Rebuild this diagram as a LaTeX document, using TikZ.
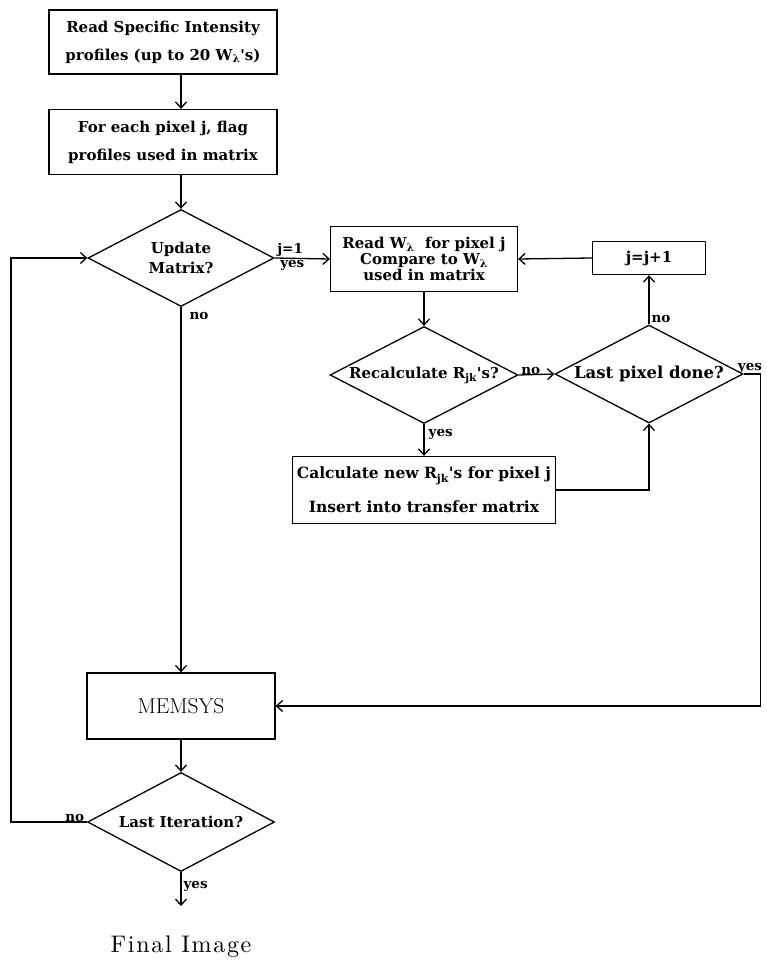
\documentclass[tikz,border=0pt]{standalone}
\usepackage{fontspec}
\usetikzlibrary{shapes.geometric,arrows.meta}
\newfontfamily\flowfont{DejaVu Serif}
\newfontfamily\imgfont[LetterSpace=7]{lmroman10-regular.otf}
\newcommand{\boxfont}{\flowfont\bfseries\fontsize{15}{28}\selectfont}
\newcommand{\lblfont}{\flowfont\bfseries\fontsize{13.5}{15}\selectfont}

\begin{document}
\begin{tikzpicture}[x=1pt, y=-1pt, line width=1.3pt, >={Straight Barb[length=6pt,width=11pt]},
  blk/.style={draw, rectangle, inner sep=0pt, align=center, font=\boxfont},
  dec/.style={draw, diamond, aspect=2, inner sep=0pt, align=center, font=\boxfont},
  lbl/.style={font=\lblfont, inner sep=2pt}]
\useasboundingbox (0,0) rectangle (766,960);
% main column
\node[blk, minimum width=228pt, minimum height=64pt] (rsi) at (163,42) {Read Specific Intensity\\profiles (up to 20 W\textsubscript{λ}'s)};
\node[blk, minimum width=228pt, minimum height=65pt] (flag) at (163,142) {For each pixel j, flag\\profiles used in matrix};
\node[dec, minimum width=186pt, minimum height=97pt, font=\boxfont\fontsize{15}{20}\selectfont] (upd) at (181,258) {Update\\Matrix?};
\node[blk, minimum width=188pt, minimum height=66pt, font=\normalfont\fontsize{21.5}{24}\selectfont] (mem) at (181,706) {MEMSYS};
\node[dec, minimum width=187pt, minimum height=99pt] (lit) at (181,822) {Last Iteration?};
\coordinate (fin) at (181,906);
\node[font=\imgfont\fontsize{24}{26}\selectfont] (img) at (181,947) {Final Image};
% pixel loop
\node[blk, minimum width=187pt, minimum height=65pt, font=\boxfont\fontsize{15}{16}\selectfont] (rw) at (424,259) {Read W\textsubscript{λ}\ \ for pixel j\\Compare to W\textsubscript{λ}\\used in matrix};
\node[blk, minimum width=113pt, minimum height=33pt] (jinc) at (649,258) {j=j+1};
\node[dec, minimum width=188pt, minimum height=97pt] (rec) at (424,375) {Recalculate R\textsubscript{jk}'s?};
\node[dec, minimum width=188pt, minimum height=98pt, font=\boxfont\fontsize{16.5}{20}\selectfont] (lpd) at (649,374) {Last pixel done?};
\node[blk, minimum width=263pt, minimum height=67pt, font=\boxfont\fontsize{15.5}{28}\selectfont] (calc) at (424,490) {Calculate new R\textsubscript{jk}'s for pixel j\\[6pt]Insert into transfer matrix};
% connectors
\draw[->] (upd |- rsi.south) -- (upd |- flag.north);
\draw[->] (upd |- flag.south) -- (upd.north);
\draw[->] (upd.east) -- node[lbl, pos=0, above right, yshift=-1pt] {j=1} node[lbl, pos=0, below right, xshift=3pt] {yes} (rw.west);
\draw[->] (upd.south) -- node[lbl, pos=0, below right, xshift=6pt, yshift=-2pt] {no} (mem.north);
\draw[->] (mem.south) -- (lit.north);
\draw[->] (lit.west) -- node[lbl, pos=0, above left, yshift=-2pt] {no} ++(-76,0) |- (upd.west);
\draw[->] (lit.south) -- node[lbl, pos=0, below right, yshift=-6pt] {yes} (fin);
\draw[->] (jinc.west) -- (rw.east);
\draw[->] (rw.south) -- (rec.north);
\draw[->] (rec.east) -- node[lbl, pos=0, above right, yshift=-2pt] {no} (lpd.west);
\draw[->] (lpd.north) -- node[lbl, pos=0, above right, yshift=-1pt] {no} (jinc.south);
\draw[->] (rec.south) -- node[lbl, pos=0, below right, xshift=2pt, yshift=-2pt] {yes} (calc.north);
\draw[->] (calc.east) -| (lpd.south);
\draw[->] (lpd.east) -- ++(17,0) node[lbl, above left, xshift=4pt, yshift=-2pt] {yes} |- (mem.east);
\end{tikzpicture}
\end{document}
